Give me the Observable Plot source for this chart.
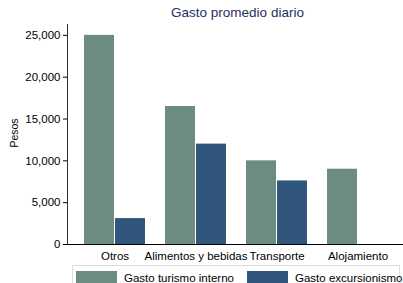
<!DOCTYPE html>
<html>
<head>
<meta charset="utf-8">
<script src="https://cdn.jsdelivr.net/npm/d3@7"></script>
<script src="https://cdn.jsdelivr.net/npm/@observablehq/plot@0.6"></script>
<style>
  body { margin: 0; background: #fff; font-family: "Liberation Sans", Arial, sans-serif; }
  #wrap { position: relative; width: 403px; height: 283px; overflow: hidden; }
  #title { position: absolute; left: 0; top: 5px; width: 403px; padding-left: 72px; box-sizing: border-box; text-align: center; font-size: 13.5px; color: #1f2f5e; }
  #chart { position: absolute; left: 0; top: 0; }
  #legend { position: absolute; left: 72px; top: 265px; width: 328px; height: 30px; border: 1px solid #dcdcdc; box-sizing: border-box; font-size: 11.5px; color: #000; }
  .item { position: absolute; top: 5px; display: flex; align-items: center; white-space: nowrap; }
  .sw { width: 41px; height: 13px; margin-right: 7px; flex: none; }
</style>
</head>
<body>
<div id="wrap">
  <div id="chart"></div>
  <div id="title">Gasto promedio diario</div>
  <div id="legend"></div>
</div>
<script>
const categories = ["Otros", "Alimentos y bebidas", "Transporte", "Alojamiento"];
const turismo = [25000, 16500, 10000, 9000];
const excursion = [3100, 12000, 7600, null];
const seriesNames = ["Gasto turismo interno", "Gasto excursionismo"];
const colors = ["#6b8c7f", "#30577b"];
const yTicks = [0, 5000, 10000, 15000, 20000, 25000];

const rowsT = categories.map((c, i) => ({category: c, value: turismo[i]}));
const rowsE = categories.map((c, i) => ({category: c, value: excursion[i]})).filter(d => d.value != null);

const plot = Plot.plot({
  width: 403,
  height: 262,
  marginTop: 24,
  marginBottom: 18,
  marginLeft: 67,
  marginRight: 0,
  style: {fontFamily: "Liberation Sans, Arial, sans-serif", fontSize: "11.5px", color: "#000", background: "transparent"},
  x: {domain: categories, range: [62, 410], padding: 0.244, label: null},
  y: {domain: [0, 26300], label: null},
  marks: [
    Plot.barY(rowsT, {x: "category", y: "value", fill: colors[0], insetRight: 31, insetLeft: 0}),
    Plot.barY(rowsE, {x: "category", y: "value", fill: colors[1], insetLeft: 31, insetRight: 0}),
    Plot.frame({anchor: "left", stroke: "#333"}),
    Plot.ruleY([0], {stroke: "#000", strokeWidth: 1.2}),
    Plot.axisY({ticks: yTicks, tickFormat: d3.format(","), tickSize: 4, tickPadding: 3, label: null}),
    Plot.axisX({tickSize: 0, tickPadding: 7, label: null})
  ]
});
document.getElementById("chart").appendChild(plot);

// y-axis label
const svg = d3.select(plot);
svg.append("text")
  .attr("transform", "translate(18,133) rotate(-90)")
  .attr("text-anchor", "middle")
  .attr("font-size", "10.5px")
  .attr("fill", "#000")
  .text("Pesos");

const legend = document.getElementById("legend");
const lefts = [3, 174];
seriesNames.forEach((name, i) => {
  const it = document.createElement("div");
  it.className = "item";
  it.style.left = lefts[i] + "px";
  const sw = document.createElement("div");
  sw.className = "sw";
  sw.style.background = colors[i];
  const tx = document.createElement("span");
  tx.textContent = name;
  it.appendChild(sw); it.appendChild(tx);
  legend.appendChild(it);
});
</script>
</body>
</html>
